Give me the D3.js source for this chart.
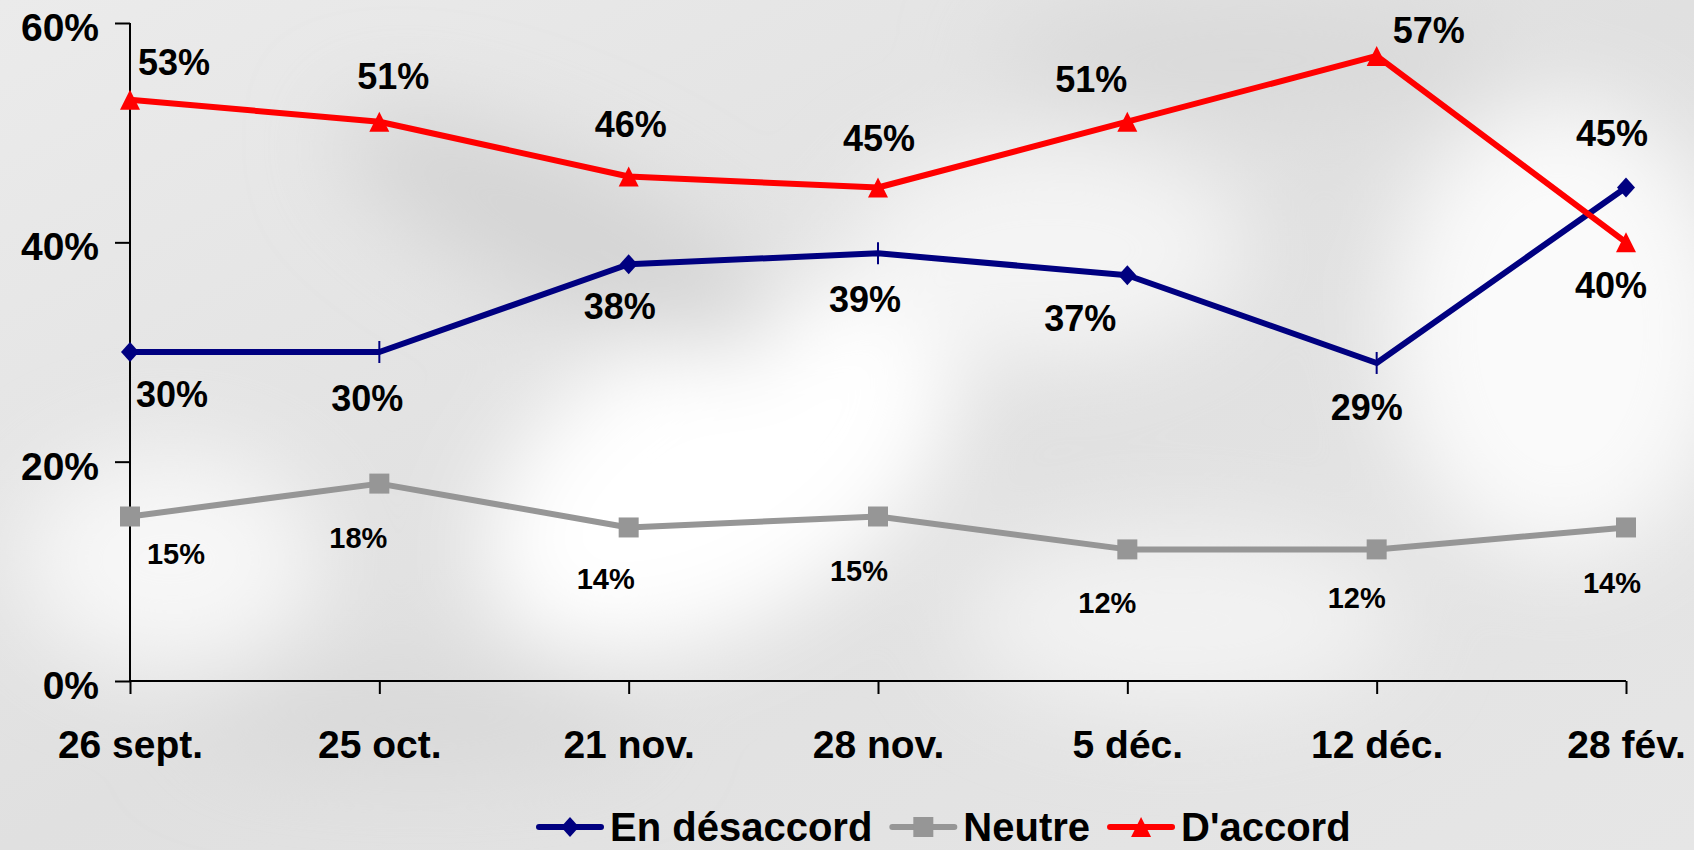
<!DOCTYPE html>
<html>
<head>
<meta charset="utf-8">
<script src="https://cdn.jsdelivr.net/npm/d3@7"></script>
<style>
  html, body { margin: 0; padding: 0; background: #e4e4e4; }
  svg { display: block; font-family: "Liberation Sans", Arial, sans-serif; font-weight: bold; }
</style>
</head>
<body>
<svg id="chart" width="1694" height="850"></svg>
<script>
// ---- data ----
const categories = ["26 sept.", "25 oct.", "21 nov.", "28 nov.", "5 déc.", "12 déc.", "28 fév."];
const desaccord = [30, 30, 38, 39, 37, 29, 45];
const neutre = [15, 18, 14, 15, 12, 12, 14];
const accord = [53, 51, 46, 45, 51, 57, 40];
const yTicks = [0, 20, 40, 60];

// label nudges (layout only), [dx, dy] from the point
const offDesaccord = [[42, 55], [-12, 59], [-9, 55], [-13, 59], [-47, 56], [-10, 57], [-14, -42]];
const offNeutre = [[46, 47], [-21, 64], [-23, 62], [-19, 64], [-20, 64], [-20, 59], [-14, 66]];
const offAccord = [[44, -25], [14, -33], [2, -40], [1, -37], [-36, -30], [52, -13], [-15, 56]];

const svg = d3.select("#chart");
const W = 1694, H = 850;

// ---- background (grey swirl) ----
const defs = svg.append("defs");
defs.append("filter").attr("id", "blur")
    .attr("x", "-50%").attr("y", "-50%").attr("width", "200%").attr("height", "200%")
  .append("feGaussianBlur").attr("stdDeviation", 45);
const bgGrad = defs.append("linearGradient").attr("id", "bg")
    .attr("x1", 0).attr("y1", 0).attr("x2", 1).attr("y2", 1);
bgGrad.append("stop").attr("offset", "0%").attr("stop-color", "#ebebeb");
bgGrad.append("stop").attr("offset", "50%").attr("stop-color", "#e0e0e0");
bgGrad.append("stop").attr("offset", "100%").attr("stop-color", "#e6e6e6");

const bg = svg.append("g");
bg.append("rect").attr("width", W).attr("height", H).attr("fill", "url(#bg)");
const blobs = bg.append("g").attr("filter", "url(#blur)");
blobs.append("ellipse").attr("cx", 720).attr("cy", 470).attr("rx", 260).attr("ry", 150)
    .attr("transform", "rotate(-30 720 470)").attr("fill", "#ffffff");
blobs.append("ellipse").attr("cx", 1560).attr("cy", 330).attr("rx", 170).attr("ry", 230).attr("fill", "#fafafa");
blobs.append("ellipse").attr("cx", 1050).attr("cy", 250).attr("rx", 200).attr("ry", 110).attr("fill", "#f4f4f4");
blobs.append("ellipse").attr("cx", 170).attr("cy", 560).attr("rx", 150).attr("ry", 110).attr("fill", "#f7f7f7");
blobs.append("ellipse").attr("cx", 560).attr("cy", 230).attr("rx", 240).attr("ry", 70)
    .attr("transform", "rotate(25 560 230)").attr("fill", "#d4d4d4");
blobs.append("ellipse").attr("cx", 420).attr("cy", 720).attr("rx", 230).attr("ry", 45).attr("fill", "#d8d8d8");
blobs.append("ellipse").attr("cx", 1250).attr("cy", 60).attr("rx", 260).attr("ry", 60).attr("fill", "#d9d9d9");
blobs.append("ellipse").attr("cx", 1180).attr("cy", 620).attr("rx", 220).attr("ry", 90).attr("fill", "#f2f2f2");

// ---- scales ----
const x = d3.scalePoint().domain(categories).range([130, 1626]);
const y = d3.scaleLinear().domain([0, 60]).range([681, 23]);

// ---- axes ----
const yAxis = svg.append("g").attr("transform", "translate(130,0)")
  .call(d3.axisLeft(y).tickValues(yTicks).tickSize(15).tickPadding(16).tickFormat(d => d + "%"));
yAxis.selectAll("path, line").attr("stroke", "#000").attr("stroke-width", 2);
yAxis.select(".domain").attr("d", `M0,${y(60)}V${y(0)}`);
yAxis.selectAll("text").attr("font-size", 39).attr("fill", "#000")
  .attr("font-family", "Liberation Sans, Arial, sans-serif").attr("font-weight", "bold")
  .attr("dy", "0.45em");

const xAxis = svg.append("g").attr("transform", `translate(0,${y(0)})`)
  .call(d3.axisBottom(x).tickSize(13).tickPadding(0));
xAxis.selectAll("path, line").attr("stroke", "#000").attr("stroke-width", 2);
xAxis.select(".domain").attr("d", `M${x(categories[0])},0H${x(categories[6])}`);
xAxis.selectAll("text").attr("font-size", 39).attr("fill", "#000")
  .attr("font-family", "Liberation Sans, Arial, sans-serif").attr("font-weight", "bold")
  .attr("dy", null).attr("y", 77);

// ---- series ----
const series = [
  { name: "En désaccord", values: desaccord, color: "#000080", offs: offDesaccord, fs: 36, marker: "diamond" },
  { name: "Neutre", values: neutre, color: "#969696", offs: offNeutre, fs: 29, marker: "square" },
  { name: "D'accord", values: accord, color: "#ff0000", offs: offAccord, fs: 36, marker: "triangle" }
];

const line = d3.line().x((d, i) => x(categories[i])).y(d => y(d));

function markerPath(type, i) {
  if (type === "diamond") return i % 2 === 0 ? "M0,-10L9,0L0,10L-9,0Z" : "M-1,-11H1V11H-1Z";
  if (type === "square") return "M-10,-10H10V10H-10Z";
  return "M0,-10L10,10H-10Z";
}

series.forEach(s => {
  const g = svg.append("g");
  g.append("path").datum(s.values).attr("d", line)
    .attr("fill", "none").attr("stroke", s.color).attr("stroke-width", 6)
    .attr("stroke-linejoin", "round");
  g.selectAll(".m").data(s.values).join("path")
    .attr("transform", (d, i) => `translate(${x(categories[i])},${y(d)})`)
    .attr("d", (d, i) => markerPath(s.marker, i))
    .attr("fill", s.color);
  g.selectAll(".lbl").data(s.values).join("text")
    .attr("x", (d, i) => x(categories[i]) + s.offs[i][0])
    .attr("y", (d, i) => y(d) + s.offs[i][1])
    .attr("text-anchor", "middle").attr("font-size", s.fs).attr("fill", "#000")
    .text(d => d + "%");
});

// ---- legend ----
const legend = svg.append("g");
let lx = 539;
const ly = 827;
series.forEach(s => {
  legend.append("line").attr("x1", lx).attr("x2", lx + 62).attr("y1", ly).attr("y2", ly)
    .attr("stroke", s.color).attr("stroke-width", 6).attr("stroke-linecap", "round");
  legend.append("path").attr("transform", `translate(${lx + 31},${ly})`)
    .attr("d", markerPath(s.marker, 0)).attr("fill", s.color);
  const t = legend.append("text").attr("x", lx + 71).attr("y", 841)
    .attr("font-size", 40).attr("fill", "#000").text(s.name);
  lx = lx + 71 + t.node().getComputedTextLength() + 20;
});
</script>
</body>
</html>
